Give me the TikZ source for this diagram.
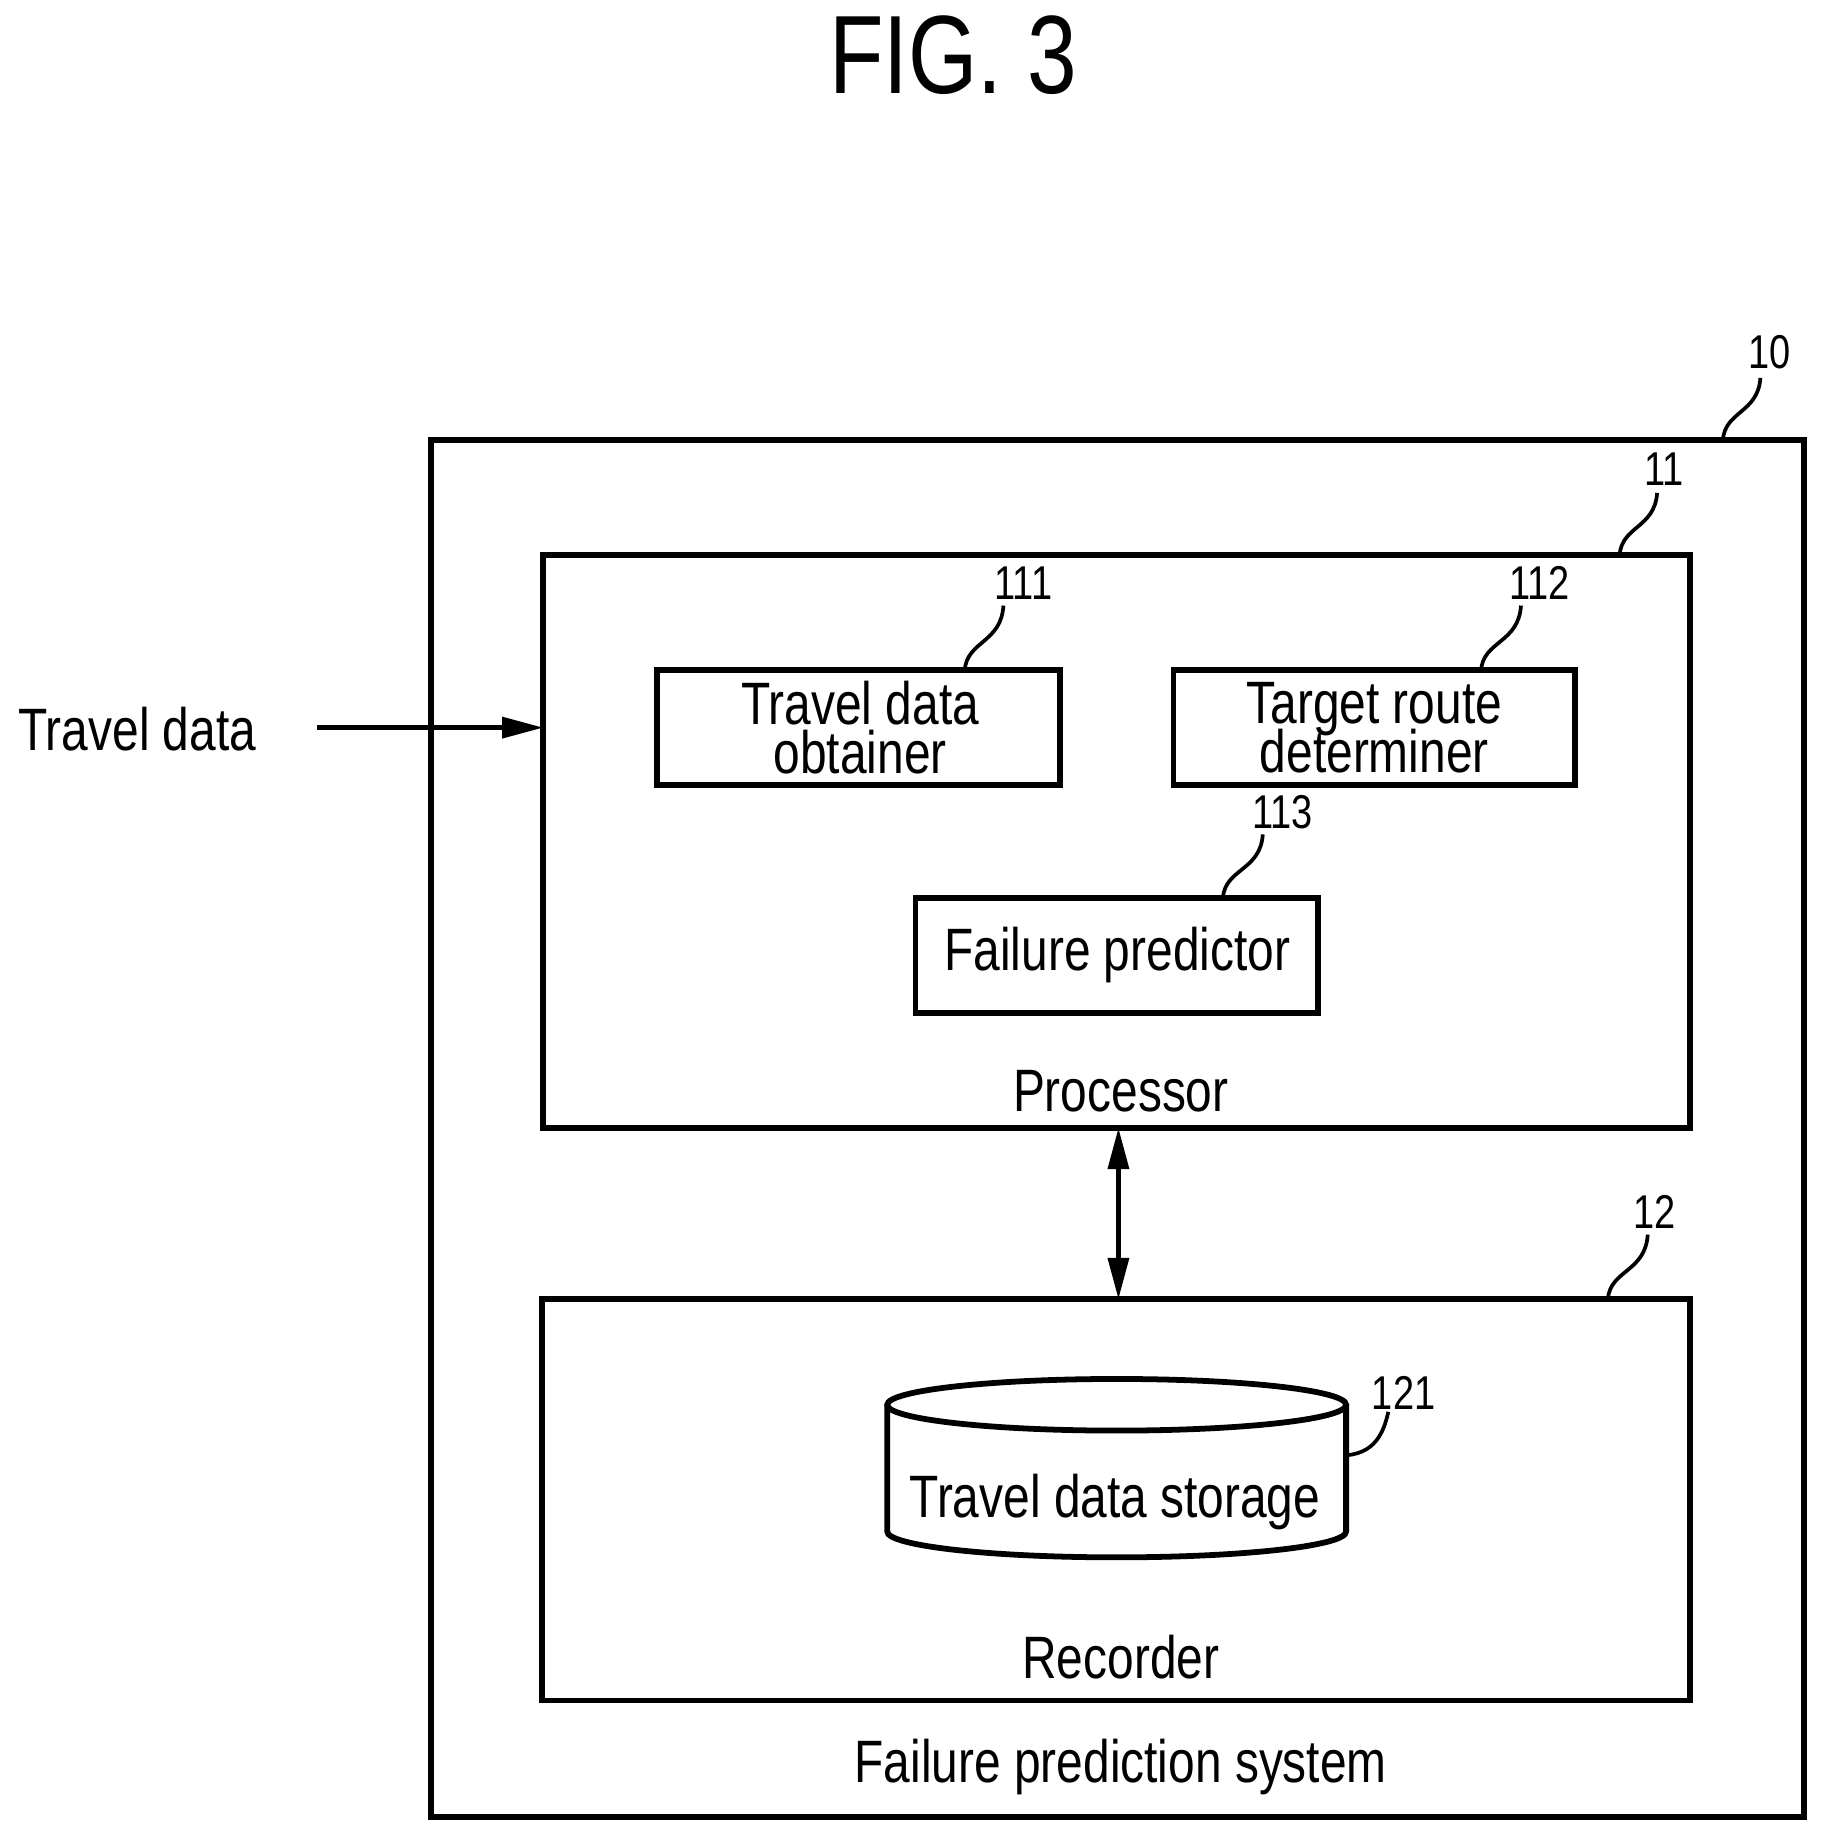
\documentclass[tikz,border=0pt]{standalone}
\usepackage{fontspec}
\setmainfont[FakeStretch=0.8]{Liberation Sans}
\usetikzlibrary{arrows.meta}
\begin{document}
\begin{tikzpicture}[x=0.01cm,y=-0.01cm,
  box/.style={draw,line width=1.4pt},
  lbl/.style={font=\fontsize{14.5}{16}\selectfont,align=center},
  num/.style={font=\fontsize{11.5}{13}\selectfont},
  lead/.style={line width=0.9pt},
  >={Triangle[length=10pt,width=5pt]}]
\useasboundingbox (0,0) rectangle (1556,1567);
\node[font=\fontsize{27}{30}\selectfont] (fig) at (812,47) {FIG. 3};
% outer
\draw[box] (367,375) rectangle (1537,1548);
\node[lbl] (sysl) at (955,1506) {Failure prediction system};
\node[num] (n10) at (1508,300) {10};
\draw[lead] (1468,375) .. controls (1470,350) and (1498,352) .. (1500,322);
% processor
\draw[box] (463,473) rectangle (1440,961);
\coordinate (procL) at (463,620);
\coordinate (procB) at (953,961);
\node[lbl] (procl) at (955,930) {Processor};
\node[num] (n11) at (1418,400) {11};
\draw[lead] (1380,473) .. controls (1382,448) and (1410,450) .. (1412,420);
% sub boxes
\draw[box] (560,571) rectangle (903,669);
\node[lbl] (tdol) at (733,620) {Travel data\\[-4pt]obtainer};
\node[num] (n111) at (872,497) {111};
\draw[lead] (822,571) .. controls (824,546) and (853,548) .. (855,516);
\draw[box] (1000,571) rectangle (1342,669);
\node[lbl] (trdl) at (1171,620) {Target route\\[-4pt]determiner};
\node[num] (n112) at (1312,497) {112};
\draw[lead] (1262,571) .. controls (1264,546) and (1294,548) .. (1296,516);
\draw[box] (780,765) rectangle (1123,863);
\node[lbl] (fpl) at (952,814) {Failure predictor};
\node[num] (n113) at (1093,692) {113};
\draw[lead] (1042,765) .. controls (1044,740) and (1074,742) .. (1076,711);
% recorder
\draw[box] (462,1107) rectangle (1440,1449);
\coordinate (recT) at (953,1107);
\node[lbl] (recl) at (955,1412) {Recorder};
\node[num] (n12) at (1410,1033) {12};
\draw[lead] (1370,1107) .. controls (1372,1082) and (1402,1084) .. (1404,1052);
% cylinder
\draw[line width=1.4pt] (756,1197) -- (756,1305) arc[start angle=180,end angle=360,x radius=195.5,y radius=-22] -- (1147,1197);
\draw[line width=1.4pt] (951.5,1197) ellipse[x radius=195.5,y radius=22];
\node[lbl] (tds) at (950,1280) {Travel data storage};
\node[num] (n121) at (1196,1187) {121};
\draw[lead] (1147,1240) .. controls (1175,1238) and (1180,1215) .. (1183,1203);
% arrows
\draw[line width=1.1pt,<->] (procB) -- (recT);
\node[lbl] (tdin) at (117,621) {Travel data};
\coordinate (tdstart) at (270,620);
\draw[line width=1.1pt,->] (tdstart) -- (procL);
\end{tikzpicture}
\end{document}
